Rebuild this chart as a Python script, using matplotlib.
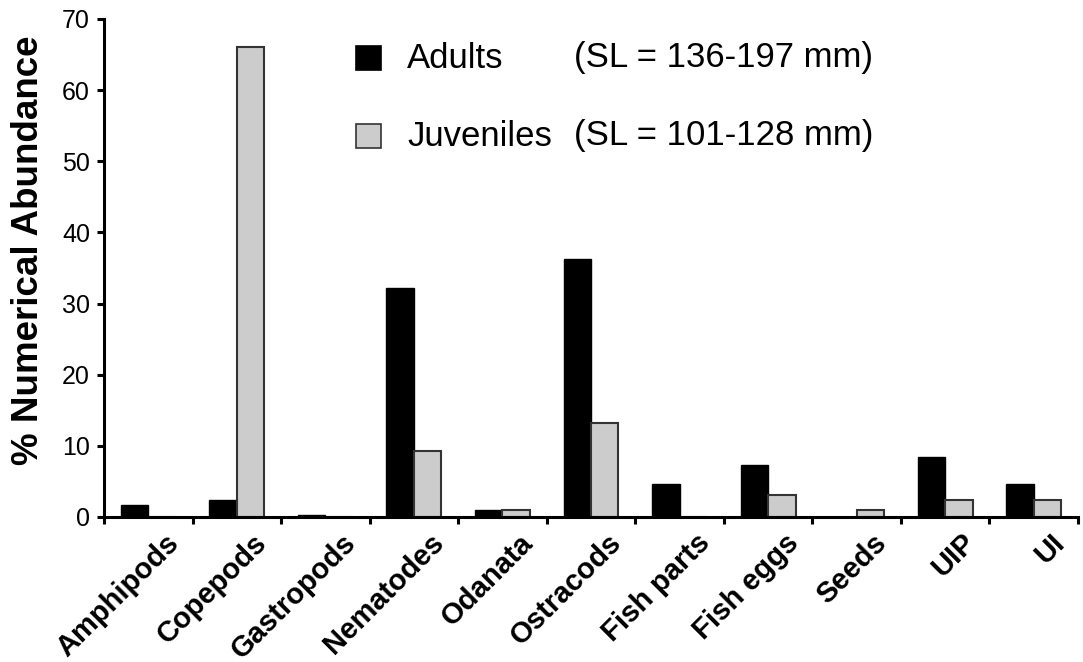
import matplotlib
matplotlib.use("Agg")
import matplotlib.pyplot as plt
from matplotlib.patches import Rectangle
from matplotlib.transforms import ScaledTranslation
import numpy as np

plt.rcParams['font.family'] = ['Liberation Sans', 'DejaVu Sans']

categories = ["Amphipods", "Copepods", "Gastropods", "Nematodes", "Odanata",
              "Ostracods", "Fish parts", "Fish eggs", "Seeds", "UIP", "UI"]
adults = [1.7, 2.4, 0.3, 32.2, 1.0, 36.3, 4.7, 7.3, 0.0, 8.5, 4.7]
juveniles = [0.0, 66.0, 0.0, 9.3, 1.0, 13.2, 0.0, 3.1, 1.0, 2.4, 2.4]
y_ticks = [0, 10, 20, 30, 40, 50, 60, 70]

W, H = 1083, 662
fig = plt.figure(figsize=(W / 100, H / 100), dpi=100)
ax = fig.add_axes([104 / W, 1 - 517 / H, (1078 - 104) / W, (517 - 19) / H])

x = np.arange(len(categories))
bw = 0.31
ax.bar(x - bw / 2, adults, width=bw, color="black", edgecolor="black",
       linewidth=1.0, zorder=2)
ax.bar(x + bw / 2, juveniles, width=bw, color="#cccccc", edgecolor="#333333",
       linewidth=1.5, zorder=2)

ax.set_xlim(-0.5, len(categories) - 0.5)
ax.set_ylim(0, 70)
ax.set_yticks(y_ticks)
ax.tick_params(axis="y", direction="out", length=5, width=2.2, pad=5,
               labelsize=18)

# category labels at bar-pair centres, tick marks at the boundaries
ax.set_xticks(x)
ax.set_xticklabels(categories, rotation=45, ha="right", va="center",
                   rotation_mode="anchor", fontsize=21, fontweight="bold")
ax.tick_params(axis="x", which="major", length=0, pad=14)
shift = ScaledTranslation(26 / 100, -2 / 100, fig.dpi_scale_trans)
for lbl in ax.get_xticklabels():
    lbl.set_transform(lbl.get_transform() + shift)
ax.set_xticks(np.arange(-0.5, len(categories)), minor=True)
ax.tick_params(axis="x", which="minor", direction="out", length=5, width=2.2)

for side in ("top", "right"):
    ax.spines[side].set_visible(False)
for side in ("left", "bottom"):
    ax.spines[side].set_linewidth(2.2)

ax.set_ylabel("% Numerical Abundance", fontsize=26.5, fontweight="bold",
              va="center")
ax.yaxis.set_label_coords(-0.078, 0.536)

# legend block
legend_rows = [
    ("black", "black", "Adults", "(SL = 136-197 mm)", 58),
    ("#cccccc", "#333333", "Juveniles", "(SL = 101-128 mm)", 136),
]
for face, edge, name, size_txt, yc in legend_rows:
    fig.patches.append(Rectangle((356 / W, 1 - (yc + 12) / H), 25 / W, 24 / H,
                                 transform=fig.transFigure, facecolor=face,
                                 edgecolor=edge, linewidth=1.2))
    fig.text(407 / W, 1 - yc / H, name, fontsize=25, va="center", ha="left")
    fig.text(574 / W, 1 - yc / H, size_txt, fontsize=25, va="center", ha="left")

fig.savefig("out.png", dpi=100)
